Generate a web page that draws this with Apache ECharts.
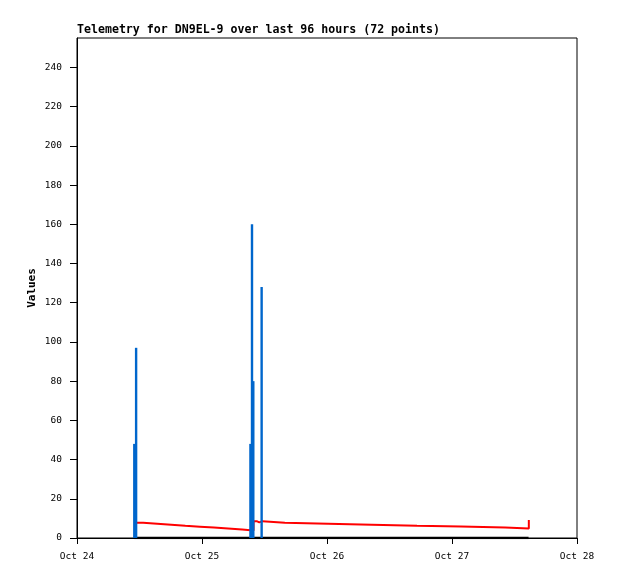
<!DOCTYPE html>
<html>
<head>
<meta charset="utf-8">
<script src="https://cdn.jsdelivr.net/npm/echarts@6/dist/echarts.min.js"></script>
<style>
html,body{margin:0;padding:0;background:#fff;}
#chart{width:618px;height:579px;}
</style>
</head>
<body>
<div id="chart"></div>
<script>
// Tick labels
const dayLabels = ['Oct 24', 'Oct 25', 'Oct 26', 'Oct 27', 'Oct 28'];
const yTicks = [0, 20, 40, 60, 80, 100, 120, 140, 160, 180, 200, 220, 240];

// Blue impulses: hours since Oct 24 00:00, value
const blueHours = [11.0, 11.35, 33.3, 33.6, 33.85, 35.45];
const blueValues = [48, 97, 48, 160, 80, 128];

// Red stepped series
const redHours = [11.3, 12.7, 15.4, 18.1, 20.8, 23.6, 26.3, 29.0, 31.7, 33.9, 34.5, 35.0, 35.6, 39.9, 48.2, 56.6, 65.3, 73.7, 82.2, 86.75];
const redValues = [7.8, 7.3, 6.8, 6.3, 5.8, 5.3, 4.8, 4.3, 3.8, 8.6, 8.0, 8.6, 7.8, 7.3, 6.8, 6.3, 5.9, 5.4, 4.9, 9.2];

// Black baseline series
const blackHours = [11.0, 86.7];
const blackValues = [0, 0];

const zip = (a, b) => a.map((v, i) => [v, b[i]]);
const mono = 'DejaVu Sans Mono';

const chart = echarts.init(document.getElementById('chart'), null, {renderer: 'canvas'});
chart.setOption({
  animation: false,
  backgroundColor: '#fff',
  title: {
    text: 'Telemetry for DN9EL-9 over last 96 hours (72 points)',
    left: 72, top: 19,
    textStyle: {fontFamily: mono, fontSize: 11.6, fontWeight: 'bold', color: '#000'}
  },
  grid: {left: 77, top: 38, width: 500, height: 500, show: true, borderColor: '#000', borderWidth: 1, containLabel: false},
  xAxis: {
    type: 'value', min: 0, max: 96, interval: 24,
    axisLine: {show: true, lineStyle: {color: '#000', width: 1}},
    axisTick: {show: true, inside: false, length: 6, lineStyle: {color: '#000'}},
    splitLine: {show: false},
    axisLabel: {
      margin: 14, fontFamily: mono, fontSize: 9.5, color: '#000',
      formatter: v => dayLabels[Math.round(v / 24)]
    }
  },
  yAxis: {
    type: 'value', min: 0, max: 255,
    name: 'Values', nameLocation: 'middle', nameGap: 39, nameMoveOverlap: false,
    nameTextStyle: {fontFamily: mono, fontSize: 11, fontWeight: 'bold', color: '#000'},
    axisLine: {show: true, lineStyle: {color: '#000', width: 1}},
    axisTick: {show: true, inside: false, length: 7, customValues: yTicks, lineStyle: {color: '#000'}},
    splitLine: {show: false},
    axisLabel: {margin: 15, fontFamily: mono, fontSize: 9.5, color: '#000', customValues: yTicks}
  },
  series: [
    {
      type: 'line', data: zip(blackHours, blackValues), showSymbol: false,
      lineStyle: {color: '#000', width: 2.5}, z: 2
    },
    {
      type: 'line', step: 'end', data: zip(redHours, redValues), showSymbol: false,
      lineStyle: {color: '#ff0000', width: 2}, z: 3
    },
    {
      type: 'bar', data: zip(blueHours, blueValues), barWidth: 2.4,
      itemStyle: {color: '#0066cc'}, z: 4
    }
  ]
});
</script>
</body>
</html>
